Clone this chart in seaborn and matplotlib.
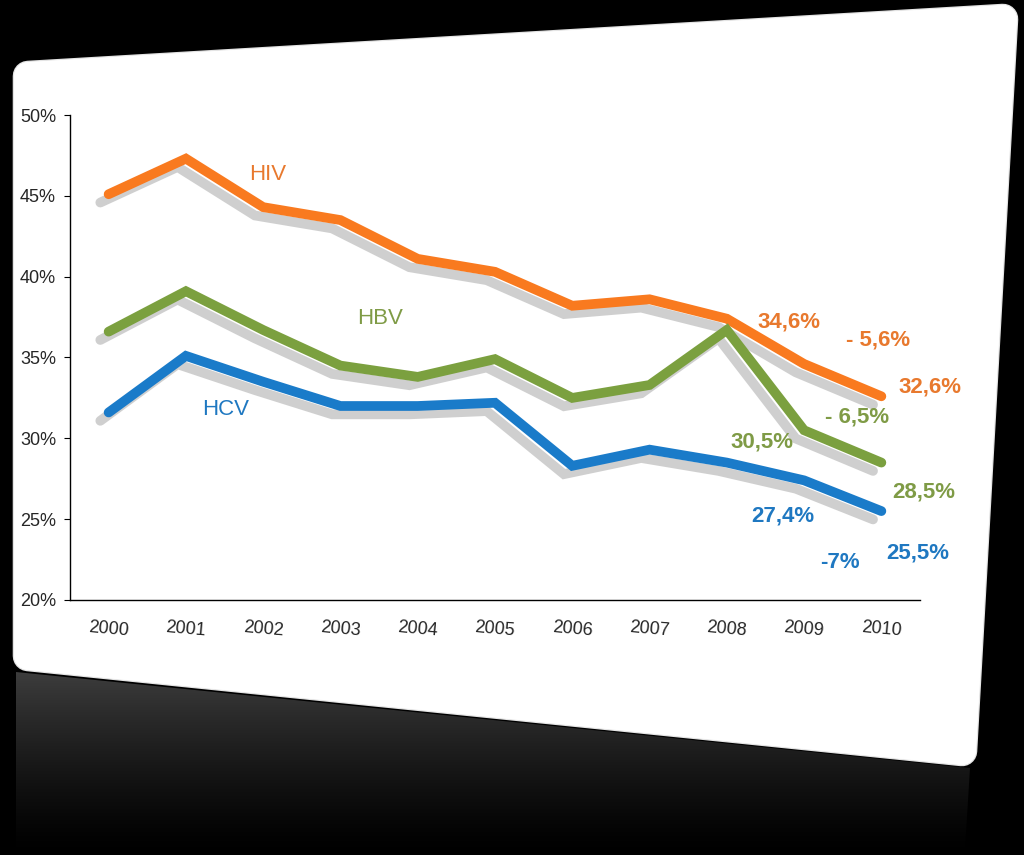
import numpy as np
import pandas as pd
import matplotlib
matplotlib.use("Agg")
import matplotlib.pyplot as plt
import matplotlib.patheffects as pe
from matplotlib.patches import Polygon
from matplotlib.ticker import FixedLocator, FuncFormatter
import seaborn as sns

# Data
years = ["2000", "2001", "2002", "2003", "2004", "2005",
         "2006", "2007", "2008", "2009", "2010"]
hiv = [45.1, 47.3, 44.3, 43.5, 41.1, 40.3, 38.2, 38.6, 37.4, 34.6, 32.6]
hbv = [36.6, 39.1, 36.7, 34.5, 33.8, 34.9, 32.5, 33.3, 36.7, 30.5, 28.5]
hcv = [31.6, 35.1, 33.5, 32.0, 32.0, 32.2, 28.3, 29.3, 28.5, 27.4, 25.5]
series_names = ["HIV", "HBV", "HCV"]
line_colors = {"HIV": "#f97a1f", "HBV": "#7ba03f", "HCV": "#1a7bc9"}
text_colors = {"HIV": "#e8792e", "HBV": "#7f9b46", "HCV": "#1f78c1"}

df = pd.DataFrame({
    "idx": list(range(len(years))) * 3,
    "value": hiv + hbv + hcv,
    "virus": [n for n in series_names for _ in years],
})

sns.set_style("white")
plt.rcParams["font.family"] = ["Liberation Sans", "DejaVu Sans"]

W, H = 1024, 855
fig = plt.figure(figsize=(W / 100, H / 100), dpi=100, facecolor="black")

# background: black page, white rounded card, grey reflection
bg = fig.add_axes([0, 0, 1, 1])
bg.axis("off")

refl = Polygon([(16, 672), (970, 768), (962, 900), (16, 900)], closed=True,
               facecolor="none", edgecolor="none")
bg.add_patch(refl)
grad = 0.25 * np.linspace(1.0, 0.0, 200) ** 1.3
img = np.repeat(grad[:, None, None], 2, axis=1).repeat(3, axis=2)
im = bg.imshow(img, extent=[0, W, H, 665], origin="upper", aspect="auto",
               interpolation="bilinear")
im.set_clip_path(refl)

card = Polygon([(28, 76), (1003, 19), (962, 751), (28, 656)], closed=True,
               facecolor="white", edgecolor="white", lw=20,
               joinstyle="round")
card.set_path_effects([pe.withStroke(linewidth=22, foreground="#e4e4e4"),
                       pe.Normal()])
bg.add_patch(card)
bg.set_xlim(0, W)
bg.set_ylim(H, 0)

# chart
ax = fig.add_axes([70 / W, 1 - 600 / H, 850 / W, 485 / H])
ax.set_facecolor("none")
shadow = [pe.SimpleLineShadow(offset=(-6, -6), shadow_color="#a0a0a0",
                              alpha=0.5), pe.Normal()]
sns.lineplot(data=df, x="idx", y="value", hue="virus", palette=line_colors,
             hue_order=series_names, linewidth=7, legend=False, ax=ax,
             path_effects=shadow, solid_joinstyle="miter", solid_capstyle="round")

ax.set_xlim(-0.5, len(years) - 0.5)
ax.set_ylim(20, 50)
ax.set_xlabel("")
ax.set_ylabel("")
ax.set_xticks(range(len(years)))
ax.set_xticklabels(years, rotation=-5, fontsize=13)
ax.xaxis.set_minor_locator(FixedLocator(np.arange(-0.5, len(years), 1.0)))
ax.tick_params(axis="x", which="major", length=0, pad=14)
ax.tick_params(axis="x", which="minor", length=6, direction="in", color="black")
ax.set_yticks(range(20, 51, 5))
ax.yaxis.set_major_formatter(FuncFormatter(lambda v, _: f"{v:.0f}%"))
ax.tick_params(axis="y", length=4, direction="out", labelsize=13, pad=6,
               left=True, color="black")
for s in ["top", "right"]:
    ax.spines[s].set_visible(False)
for s in ["left", "bottom"]:
    ax.spines[s].set_color("black")
    ax.spines[s].set_linewidth(1)

narrow = ["Liberation Sans Narrow", "Liberation Sans"]

# series names
ax.text(2.06, 46.3, "HIV", color=text_colors["HIV"], fontsize=16,
        family=narrow, ha="center", va="center")
ax.text(3.51, 37.4, "HBV", color=text_colors["HBV"], fontsize=16,
        family=narrow, ha="center", va="center")
ax.text(1.51, 31.8, "HCV", color=text_colors["HCV"], fontsize=16,
        family=narrow, ha="center", va="center")

# value labels
labels = [
    ("HIV", 8.81, 37.2, "34,6%"), ("HIV", 9.96, 36.1, "- 5,6%"),
    ("HIV", 10.63, 33.2, "32,6%"),
    ("HBV", 8.45, 29.8, "30,5%"), ("HBV", 9.69, 31.3, "- 6,5%"),
    ("HBV", 10.55, 26.7, "28,5%"),
    ("HCV", 8.72, 25.2, "27,4%"), ("HCV", 9.46, 22.3, "-7%"),
    ("HCV", 10.47, 22.9, "25,5%"),
]
for name, x, y, t in labels:
    ax.text(x, y, t, color=text_colors[name], fontsize=16, fontweight="bold",
            family=narrow, ha="center", va="center", clip_on=False)

fig.savefig("out.png", dpi=100, facecolor="black")
